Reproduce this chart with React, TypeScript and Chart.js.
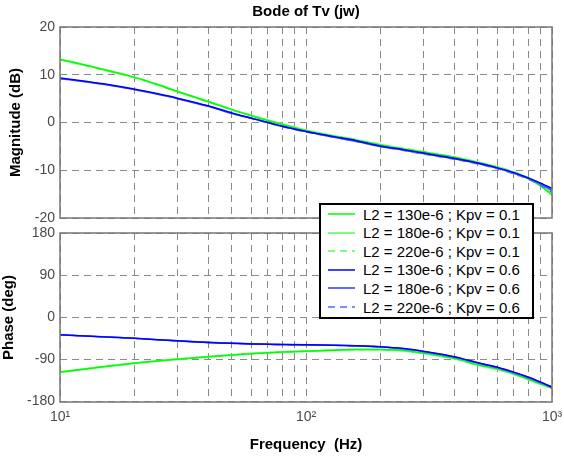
import React, { useEffect, useRef } from "react";
import { Chart, registerables } from "chart.js";

Chart.register(...registerables);

// ---------- data ----------
const FREQ = [10, 12, 15, 20, 25, 30, 40, 50, 60, 70, 80, 100, 130, 160, 200, 250, 300, 400, 500, 600, 700, 800, 900, 1000];

const MAG_G130 = [13.2, 12.3, 11.1, 9.5, 7.9, 6.5, 4.4, 2.7, 1.4, 0.4, -0.4, -1.7, -2.9, -3.7, -4.7, -5.6, -6.2, -7.3, -8.4, -9.4, -10.5, -11.8, -13.3, -15.2];
const MAG_G180 = [13.2, 12.3, 11.1, 9.5, 7.9, 6.5, 4.4, 2.7, 1.5, 0.5, -0.3, -1.6, -2.8, -3.6, -4.6, -5.5, -6.2, -7.3, -8.3, -9.3, -10.4, -11.6, -13.0, -14.8];
const MAG_G220 = [13.1, 12.2, 11.0, 9.4, 7.8, 6.4, 4.3, 2.6, 1.4, 0.4, -0.4, -1.7, -2.8, -3.6, -4.6, -5.4, -6.1, -7.2, -8.3, -9.3, -10.3, -11.5, -12.8, -14.5];
const MAG_B130 = [9.3, 8.8, 8.1, 7.0, 6.0, 5.1, 3.5, 2.0, 0.9, 0.0, -0.8, -1.9, -3.0, -3.8, -4.9, -5.7, -6.4, -7.5, -8.5, -9.5, -10.5, -11.6, -12.7, -13.8];
const MAG_B180 = [9.2, 8.7, 8.0, 6.9, 5.9, 5.0, 3.4, 1.9, 0.9, 0.0, -0.8, -1.9, -3.1, -3.9, -5.0, -5.8, -6.5, -7.6, -8.6, -9.6, -10.6, -11.7, -12.9, -14.2];
const MAG_B220 = [9.2, 8.7, 8.0, 6.9, 5.9, 5.0, 3.4, 1.9, 0.8, -0.1, -0.9, -2.0, -3.1, -4.0, -5.0, -5.9, -6.6, -7.7, -8.7, -9.7, -10.8, -11.9, -13.2, -14.6];

const PH_G130 = [-118, -113, -106.5, -99, -94, -90.5, -85, -81.5, -78.5, -76.5, -75, -73.5, -71, -69.8, -69.5, -71.5, -77, -88.5, -102, -111, -121.5, -133, -143, -152.5];
const PH_G180 = [-118, -113, -106.5, -99, -94, -90.5, -85, -81.3, -78.3, -76.3, -74.8, -73.2, -70.8, -69.6, -69.6, -72, -77.5, -89, -103, -112, -122.5, -133.5, -143.5, -152];
const PH_G220 = [-117.5, -112.5, -106, -98.5, -93.5, -90.3, -84.8, -81.3, -78.3, -76.3, -74.8, -73.2, -70.8, -69.8, -70, -72.5, -78, -89.5, -103, -112.5, -123, -134, -144, -153];
const PH_B130 = [-38, -40, -42.5, -45.5, -48.5, -51, -54.3, -56.3, -57.5, -58.3, -58.8, -59.5, -60.5, -61.5, -63.5, -67.5, -73.5, -85, -98, -107.5, -118, -128.5, -139.5, -150];
const PH_B180 = [-38, -40, -42.5, -45.5, -48.5, -51, -54.3, -56.3, -57.5, -58.3, -58.8, -59.6, -60.6, -61.7, -63.8, -68, -74, -85.5, -98.5, -108, -119, -129.5, -140, -150.5];
const PH_B220 = [-38.2, -40.2, -42.7, -45.7, -48.7, -51.2, -54.5, -56.5, -57.7, -58.5, -59, -59.8, -60.8, -62, -64, -68.5, -74.5, -86, -99, -109, -120, -130.5, -141, -151];

const LABELS = [
  "L2 = 130e-6 ; Kpv = 0.1",
  "L2 = 180e-6 ; Kpv = 0.1",
  "L2 = 220e-6 ; Kpv = 0.1",
  "L2 = 130e-6 ; Kpv = 0.6",
  "L2 = 180e-6 ; Kpv = 0.6",
  "L2 = 220e-6 ; Kpv = 0.6",
];

const GRID_FREQ = [10, 20, 30, 40, 50, 60, 70, 80, 90, 100, 200, 300, 400, 500, 600, 700, 800, 900, 1000];
const MAG_TICKS = [-20, -10, 0, 10, 20];
const PH_TICKS = [-180, -90, 0, 90, 180];
const X_TICK_TEXT: Record<number, string> = { 10: "10\u00B9", 100: "10\u00B2", 1000: "10\u00B3" };

// ---------- styles ----------
const MAGS = [MAG_G130, MAG_G180, MAG_G220, MAG_B130, MAG_B180, MAG_B220];
const PHS = [PH_G130, PH_G180, PH_G220, PH_B130, PH_B180, PH_B220];
const COLORS = ["#00ff00", "#7dff7d", "#55ff55", "#0000ff", "#3d46ff", "#5a66ff"];
const WIDTHS = [1.5, 2, 1.3, 1.5, 1.6, 1.3];
const DASHES: number[][] = [[], [], [7, 5], [], [], [7, 5]];
// lower order is painted on top
const ORDERS = [3, 5, 4, 0, 2, 1];

const FONT = "'Liberation Sans', Arial, Helvetica, sans-serif";
const TICK_COLOR = "#4a4a4a";
const GRID_COLOR = "#8a8a8a";

const boxPlugin = {
  id: "boxFrame",
  afterDraw(chart: any) {
    const { ctx, chartArea } = chart;
    ctx.save();
    ctx.strokeStyle = "#777";
    ctx.lineWidth = 1.5;
    ctx.strokeRect(chartArea.left, chartArea.top, chartArea.right - chartArea.left, chartArea.bottom - chartArea.top);
    ctx.restore();
  },
};

function zeroPad(s: any) {
  s.paddingLeft = 0;
  s.paddingRight = 0;
  s.paddingTop = 0;
  s.paddingBottom = 0;
}

function makeDatasets(values: number[][]) {
  return values.map((arr, k) => ({
    label: LABELS[k],
    data: FREQ.map((f, i) => ({ x: f, y: arr[i] })),
    borderColor: COLORS[k],
    backgroundColor: COLORS[k],
    borderWidth: WIDTHS[k],
    borderDash: DASHES[k],
    pointRadius: 0,
    fill: false,
    tension: 0.3,
    order: ORDERS[k],
  }));
}

function xScale(showLabels: boolean, withTitle: boolean, height: number) {
  return {
    type: "logarithmic",
    min: 10,
    max: 1000,
    afterBuildTicks: (s: any) => {
      s.ticks = GRID_FREQ.map((v) => ({ value: v }));
    },
    afterFit: (s: any) => {
      s.height = height;
      zeroPad(s);
    },
    ticks: {
      display: showLabels,
      autoSkip: false,
      maxRotation: 0,
      padding: 7,
      color: TICK_COLOR,
      font: { family: FONT, size: 14 },
      callback: (v: any) => X_TICK_TEXT[Number(v)] || "",
    },
    grid: { color: GRID_COLOR, lineWidth: 1, drawTicks: false },
    border: { display: false, dash: [7, 5] },
    title: {
      display: withTitle,
      text: "Frequency  (Hz)",
      color: "#000",
      font: { family: FONT, size: 15, weight: "bold" },
      padding: { top: 0, bottom: 5 },
    },
  };
}

function yScale(min: number, max: number, ticks: number[], title: string, titlePad: number) {
  return {
    type: "linear",
    min,
    max,
    afterBuildTicks: (s: any) => {
      s.ticks = ticks.map((v) => ({ value: v }));
    },
    afterFit: (s: any) => {
      s.width = 60;
      zeroPad(s);
    },
    ticks: {
      padding: 5,
      color: TICK_COLOR,
      font: { family: FONT, size: 14 },
      callback: (v: any) => String(v),
    },
    grid: { color: GRID_COLOR, lineWidth: 1, drawTicks: false },
    border: { display: false, dash: [7, 5] },
    title: {
      display: true,
      text: title,
      color: "#000",
      font: { family: FONT, size: 15, weight: "bold" },
      padding: { top: titlePad, bottom: 0 },
    },
  };
}

export default function App() {
  const topRef = useRef<HTMLCanvasElement>(null);
  const botRef = useRef<HTMLCanvasElement>(null);

  useEffect(() => {
    const top = new Chart(topRef.current as HTMLCanvasElement, {
      type: "line",
      data: { datasets: makeDatasets(MAGS) as any },
      plugins: [boxPlugin],
      options: {
        animation: false,
        responsive: false,
        maintainAspectRatio: false,
        layout: { padding: { left: 0, right: 12, top: 0, bottom: 0 } },
        plugins: {
          legend: { display: false },
          tooltip: { enabled: false },
          title: {
            display: true,
            text: "Bode of Tv (jw)",
            color: "#000",
            fullSize: false,
            font: { family: FONT, size: 15, weight: "bold" },
            padding: { top: 3, bottom: 6 },
          },
        },
        scales: {
          x: xScale(false, false, 7) as any,
          y: yScale(-20, 20, MAG_TICKS, "Magnitude (dB)", 7) as any,
        },
      },
    });

    const bot = new Chart(botRef.current as HTMLCanvasElement, {
      type: "line",
      data: { datasets: makeDatasets(PHS) as any },
      plugins: [boxPlugin],
      options: {
        animation: false,
        responsive: false,
        maintainAspectRatio: false,
        layout: { padding: { left: 0, right: 12, top: 8, bottom: 0 } },
        plugins: {
          legend: { display: false },
          tooltip: { enabled: false },
        },
        scales: {
          x: xScale(true, true, 57) as any,
          y: yScale(-182, 180, PH_TICKS, "Phase (deg)", 0) as any,
        },
      },
    });

    return () => {
      top.destroy();
      bot.destroy();
    };
  }, []);

  const rowTop = (i: number) => 203 + 2 + i * 18.6;

  return (
    <div style={{ position: "absolute", left: 0, top: 0, width: 564, height: 459, background: "#fff", overflow: "hidden" }}>
      <canvas ref={topRef} width={564} height={225} style={{ position: "absolute", left: 0, top: 0, width: 564, height: 225 }} />
      <canvas ref={botRef} width={564} height={234} style={{ position: "absolute", left: 0, top: 225, width: 564, height: 234 }} />
      <div
        style={{
          position: "absolute",
          left: 319,
          top: 203,
          width: 215,
          height: 116,
          boxSizing: "border-box",
          border: "2px solid #000",
          background: "#fff",
        }}
      />
      {LABELS.map((lab, i) => (
        <div
          key={lab}
          style={{
            position: "absolute",
            left: 326,
            top: rowTop(i),
            height: 18,
            display: "flex",
            alignItems: "center",
            fontFamily: FONT,
            fontSize: 15,
            color: "#000",
            whiteSpace: "pre",
          }}
        >
          <svg width={31} height={6} style={{ display: "block", marginRight: 6 }}>
            <line
              x1={2}
              y1={3}
              x2={29}
              y2={3}
              stroke={COLORS[i]}
              strokeWidth={WIDTHS[i]}
              strokeDasharray={DASHES[i].length ? DASHES[i].join(" ") : undefined}
            />
          </svg>
          <span>{lab}</span>
        </div>
      ))}
    </div>
  );
}
